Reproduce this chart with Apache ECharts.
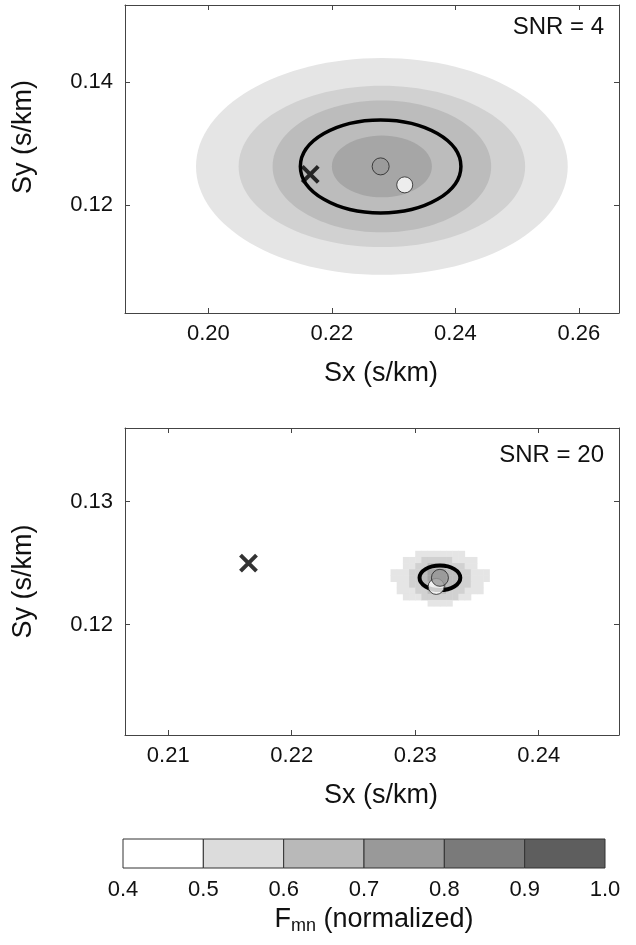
<!DOCTYPE html>
<html>
<head>
<meta charset="utf-8">
<script src="https://cdn.jsdelivr.net/npm/echarts@6/dist/echarts.min.js"></script>
<style>
html, body { margin: 0; padding: 0; background: #fff; }
#main { width: 636px; height: 945px; }
</style>
</head>
<body>
<div id="main"></div>
<script>
// slowness points, [Sx, Sy] in s/km
var trueSlowness = [0.2165, 0.1250];   // cross
var peakSnr4 = [0.2279, 0.1263];       // grey dot
var meanSnr4 = [0.2318, 0.1233];       // white dot
var peakSnr20 = [0.2320, 0.1238];
var meanSnr20 = [0.2317, 0.1231];

// confidence ellipses: [Sx, Sy, width, height]
var ellipseSnr4 = [0.2279, 0.1263, 0.0260, 0.0151];
var ellipseSnr20 = [0.2320, 0.1238, 0.0033, 0.0020];

// SNR = 4 Fmn bands, outer to inner: [Sx, Sy, width, height]
var bandsSnr4 = [
    [0.2281, 0.1263, 0.0602, 0.0352],
    [0.2281, 0.1263, 0.0464, 0.0262],
    [0.2281, 0.1263, 0.0354, 0.0214],
    [0.2281, 0.1263, 0.0162, 0.0100]
];
var bandLevelsSnr4 = [1, 2, 3, 4];

// SNR = 20 Fmn grid (one digit per cell, '.' = below 0.5)
var cellSx = [0.22825, 0.22875, 0.22925, 0.22975, 0.23025, 0.23075, 0.23125, 0.23175,
              0.23225, 0.23275, 0.23325, 0.23375, 0.23425, 0.23475, 0.23525, 0.23575];
var cellSy = [0.12575, 0.12525, 0.12475, 0.12425, 0.12375, 0.12325, 0.12275, 0.12225, 0.12175];
var cellStep = 0.0005;
var cellLevels = [
    '....11111111....',
    '..111222221111..',
    '..112233322211..',
    '1112234443322111',
    '1112234443322111',
    '.11223344332211.',
    '.11122333222111.',
    '..11122222211...',
    '......1111......'
];

var panelShades = ['#ffffff', '#e5e5e5', '#d1d1d1', '#bcbcbc', '#a6a6a6'];

// colour bar
var cbEdges = [0.4, 0.5, 0.6, 0.7, 0.8, 0.9, 1.0];
var cbColors = ['#ffffff', '#dcdcdc', '#b9b9b9', '#999999', '#7a7a7a', '#5e5e5e'];

var FONT = 'Liberation Sans, Arial, sans-serif';

var cellData = [];
cellLevels.forEach(function (row, r) {
    for (var c = 0; c < row.length; c++) {
        if (row[c] !== '.') cellData.push([cellSx[c], cellSy[r], +row[c]]);
    }
});

var bandData = bandsSnr4.map(function (b, i) { return b.concat([bandLevelsSnr4[i]]); });

function onTick(v, iv) {
    var k = v / iv;
    return Math.abs(k - Math.round(k)) < 1e-6;
}

function xAxisOf(grid, pos, min, max, iv, name) {
    return {
        type: 'value', gridIndex: grid, position: pos, min: min, max: max,
        minInterval: iv, maxInterval: iv,
        name: name, nameLocation: 'middle', nameGap: 47,
        nameTextStyle: { fontFamily: FONT, fontSize: 27, color: '#111', padding: [0, 0, 0, 18] },
        axisLine: { show: true, onZero: false, lineStyle: { color: '#444', width: 1 } },
        axisTick: { show: true, inside: true, length: 5, lineStyle: { color: '#444' } },
        axisLabel: {
            show: pos === 'bottom', margin: 10, fontFamily: FONT, fontSize: 22, color: '#111',
            showMinLabel: false, showMaxLabel: false,
            formatter: function (v) { return onTick(v, iv) ? v.toFixed(2) : ''; }
        },
        splitLine: { show: false }
    };
}

function yAxisOf(grid, pos, min, max, iv, name, shift) {
    return {
        type: 'value', gridIndex: grid, position: pos, min: min, max: max,
        minInterval: iv, maxInterval: iv,
        name: name, nameLocation: 'middle', nameGap: 88,
        nameTextStyle: { fontFamily: FONT, fontSize: 27, color: '#111', padding: [0, 0, 0, shift] },
        axisLine: { show: true, onZero: false, lineStyle: { color: '#444', width: 1 } },
        axisTick: { show: true, inside: true, length: 5, lineStyle: { color: '#444' } },
        axisLabel: {
            show: pos === 'left', margin: 12, fontFamily: FONT, fontSize: 22, color: '#111',
            showMinLabel: false, showMaxLabel: false,
            formatter: function (v) { return onTick(v, iv) ? v.toFixed(2) : ''; }
        },
        splitLine: { show: false }
    };
}

function renderBand(params, api) {
    var c = api.coord([api.value(0), api.value(1)]);
    var s = api.size([api.value(2), api.value(3)], [api.value(0), api.value(1)]);
    return {
        type: 'ellipse',
        shape: { cx: c[0], cy: c[1], rx: s[0] / 2, ry: s[1] / 2 },
        style: { fill: panelShades[api.value(4)], stroke: null }
    };
}

function renderOutline(width) {
    return function (params, api) {
        var c = api.coord([api.value(0), api.value(1)]);
        var s = api.size([api.value(2), api.value(3)], [api.value(0), api.value(1)]);
        return {
            type: 'ellipse',
            shape: { cx: c[0], cy: c[1], rx: s[0] / 2, ry: s[1] / 2 },
            style: { fill: null, stroke: '#000', lineWidth: width }
        };
    };
}

function renderCell(params, api) {
    var sx = api.value(0), sy = api.value(1);
    var p = api.coord([sx - cellStep / 2, sy + cellStep / 2]);
    var s = api.size([cellStep, cellStep], [sx, sy]);
    return {
        type: 'rect',
        shape: { x: p[0], y: p[1], width: s[0] + 0.5, height: s[1] + 0.5 },
        style: { fill: panelShades[api.value(2)], stroke: null }
    };
}

function renderCbBox(params, api) {
    var p0 = api.coord([api.value(0), 0]);
    var p1 = api.coord([api.value(1), 1]);
    return {
        type: 'rect',
        shape: { x: p0[0], y: p1[1], width: p1[0] - p0[0], height: p0[1] - p1[1] },
        style: { fill: cbColors[api.value(2)], stroke: '#333', lineWidth: 1 }
    };
}

function markerSeries(xi, yi, cross, white, grey, ellipse, lw) {
    return [
        {
            type: 'custom', xAxisIndex: xi, yAxisIndex: yi, z: 3, clip: true,
            renderItem: renderOutline(lw), data: [ellipse], silent: true
        },
        {
            type: 'scatter', xAxisIndex: xi, yAxisIndex: yi, z: 4, silent: true,
            symbol: 'path://M0,0L10,10M10,0L0,10', symbolSize: 16, symbolKeepAspect: true,
            itemStyle: { color: 'rgba(0,0,0,0)', borderColor: '#000', borderWidth: 4 },
            data: [cross]
        },
        {
            type: 'scatter', xAxisIndex: xi, yAxisIndex: yi, z: 5, silent: true,
            symbol: 'circle', symbolSize: 16,
            itemStyle: { color: '#ffffff', borderColor: '#222', borderWidth: 1 },
            data: [white]
        },
        {
            type: 'scatter', xAxisIndex: xi, yAxisIndex: yi, z: 6, silent: true,
            symbol: 'circle', symbolSize: 17,
            itemStyle: { color: '#999999', borderColor: '#222', borderWidth: 1 },
            data: [grey]
        }
    ];
}

var myChart = echarts.init(document.getElementById('main'), null, { renderer: 'canvas' });

var option = {
    backgroundColor: '#fff',
    animation: false,
    grid: [
        { left: 125, top: 5, width: 494, height: 308 },
        { left: 125, top: 428, width: 494, height: 307 },
        { left: 123, top: 839, width: 482, height: 29 }
    ],
    xAxis: [
        xAxisOf(0, 'bottom', 0.1865, 0.2665, 0.02, 'Sx (s/km)'),
        xAxisOf(0, 'top', 0.1865, 0.2665, 0.02, ''),
        xAxisOf(1, 'bottom', 0.2065, 0.2465, 0.01, 'Sx (s/km)'),
        xAxisOf(1, 'top', 0.2065, 0.2465, 0.01, ''),
        {
            type: 'value', gridIndex: 2, min: 0.4, max: 1.0, interval: 0.1,
            name: '{f|F}{s|mn}{n| (normalized)}', nameLocation: 'middle', nameGap: 37,
            nameTextStyle: {
                padding: [0, 0, 0, 20],
                rich: {
                    f: { fontFamily: FONT, fontSize: 27, color: '#111' },
                    s: { fontFamily: FONT, fontSize: 18, color: '#111', padding: [12, 0, 0, 0] },
                    n: { fontFamily: FONT, fontSize: 27, color: '#111' }
                }
            },
            axisLine: { show: false }, axisTick: { show: false }, splitLine: { show: false },
            axisLabel: {
                margin: 11, fontFamily: FONT, fontSize: 22, color: '#111',
                formatter: function (v) { return v.toFixed(1); }
            }
        }
    ],
    yAxis: [
        yAxisOf(0, 'left', 0.1025, 0.1525, 0.02, 'Sy (s/km)', 44),
        yAxisOf(0, 'right', 0.1025, 0.1525, 0.02, '', 0),
        yAxisOf(1, 'left', 0.111, 0.136, 0.01, 'Sy (s/km)', 0),
        yAxisOf(1, 'right', 0.111, 0.136, 0.01, '', 0),
        { type: 'value', gridIndex: 2, min: 0, max: 1, show: false }
    ],
    graphic: [
        { type: 'text', right: 32, top: 15, style: { text: 'SNR = 4', font: '24px ' + FONT, fill: '#111' } },
        { type: 'text', right: 32, top: 443, style: { text: 'SNR = 20', font: '24px ' + FONT, fill: '#111' } }
    ],
    series: [
        {
            type: 'custom', xAxisIndex: 0, yAxisIndex: 0, z: 1, clip: true, silent: true,
            renderItem: renderBand, data: bandData
        },
        {
            type: 'custom', xAxisIndex: 2, yAxisIndex: 2, z: 1, clip: true, silent: true,
            renderItem: renderCell, data: cellData
        },
        {
            type: 'custom', xAxisIndex: 4, yAxisIndex: 4, z: 1, silent: true,
            renderItem: renderCbBox,
            data: cbColors.map(function (c, i) { return [cbEdges[i], cbEdges[i + 1], i]; })
        }
    ]
        .concat(markerSeries(0, 0, trueSlowness, meanSnr4, peakSnr4, ellipseSnr4, 3.5))
        .concat(markerSeries(2, 2, trueSlowness, meanSnr20, peakSnr20, ellipseSnr20, 4))
};

option && myChart.setOption(option);
</script>
</body>
</html>
